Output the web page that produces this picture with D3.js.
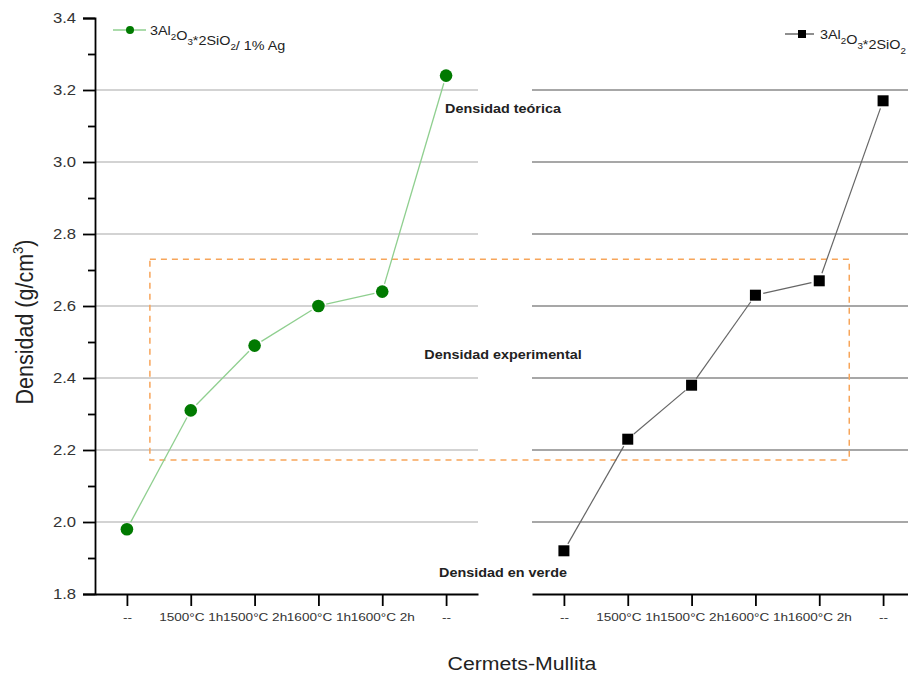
<!DOCTYPE html>
<html lang="es">
<head>
<meta charset="UTF-8">
<title>Densidad Cermets-Mullita</title>
<script src="https://cdn.jsdelivr.net/npm/d3@7/dist/d3.min.js"></script>
<style>
    body { margin: 0; background: #fff; }
    svg { display: block; font-family: Arial, "Liberation Sans", sans-serif; }
    .axis path, .axis line { stroke: #000; stroke-width: 1.8; }
    .axis text { fill: #333; }
    .note { font-weight: bold; font-size: 12.5px; fill: #222; text-anchor: middle; }
</style>
</head>
<body>
<div class="chart"></div>
<script>
// categories (x positions 0..5)
var categories = ['--', '1500°C 1h', '1500°C 2h', '1600°C 1h', '1600°C 2h', '--'];
// series
var agValues = [1.98, 2.31, 2.49, 2.60, 2.64, 3.24];     // 3Al2O3*2SiO2 / 1% Ag
var pureValues = [1.92, 2.23, 2.38, 2.63, 2.67, 3.17];   // 3Al2O3*2SiO2
// y ticks
var yTicks = [1.8, 2.0, 2.2, 2.4, 2.6, 2.8, 3.0, 3.2, 3.4];
var yMinor = [1.9, 2.1, 2.3, 2.5, 2.7, 2.9, 3.1, 3.3];
var gridValues = [2.0, 2.2, 2.4, 2.6, 2.8, 3.0, 3.2];
// annotations: text and density level
var notes = [
    { text: 'Densidad teórica', y: 3.147 },
    { text: 'Densidad experimental', y: 2.464 },
    { text: 'Densidad en verde', y: 1.858 }
];
// highlighted box (left-panel index, right-panel index, densities)
var box = { x0: 0.36, x1: 4.47, y0: 2.73, y1: 2.172 };

var width = 908, height = 677;
var SX = 1.15; // the original text looks a bit wide

var svg = d3.select('.chart').append('svg')
    .attr('width', width)
    .attr('height', height);

var y = d3.scaleLinear().domain([1.8, 3.4]).range([594, 18]);
var xLeft = d3.scaleLinear().domain([-0.5, 5.5]).range([95, 478]);
var xRight = d3.scaleLinear().domain([-0.5, 5.5]).range([532, 915]);
var idx = d3.range(categories.length);

// grid lines
svg.selectAll('line.gl').data(gridValues).enter().append('line')
    .attr('class', 'gl')
    .attr('x1', xLeft(-0.5)).attr('x2', xLeft(5.5))
    .attr('y1', function(d) { return y(d); }).attr('y2', function(d) { return y(d); })
    .attr('stroke', '#c4c4c4').attr('stroke-width', 1.6);
svg.selectAll('line.gr').data(gridValues).enter().append('line')
    .attr('class', 'gr')
    .attr('x1', xRight(-0.5)).attr('x2', xRight(5.5))
    .attr('y1', function(d) { return y(d); }).attr('y2', function(d) { return y(d); })
    .attr('stroke', '#8a8a8a').attr('stroke-width', 1.6);

// dashed box
svg.append('rect')
    .attr('x', xLeft(box.x0))
    .attr('y', y(box.y0))
    .attr('width', xRight(box.x1) - xLeft(box.x0))
    .attr('height', y(box.y1) - y(box.y0))
    .attr('fill', 'none')
    .attr('stroke', '#f7a55a')
    .attr('stroke-width', 1.5)
    .attr('stroke-dasharray', '6,5');

// y axis
svg.append('g').attr('class', 'axis')
    .attr('transform', 'translate(95,0)')
    .call(d3.axisLeft(y).tickValues(yTicks).tickSize(12).tickPadding(4.5).tickFormat(d3.format('.1f')))
    .selectAll('text')
    .style('font-size', '14.5px')
    .attr('transform', 'scale(' + SX + ',1)');
svg.append('g').attr('class', 'axis')
    .attr('transform', 'translate(95,0)')
    .call(d3.axisLeft(y).tickValues(yMinor).tickSize(7).tickFormat(''))
    .select('.domain').remove();

// x axes
function xAxis(scale) {
    return d3.axisBottom(scale).tickValues(idx).tickSize(12).tickPadding(7)
        .tickSizeOuter(0)
        .tickFormat(function(i) { return categories[i]; });
}
[xLeft, xRight].forEach(function(sc) {
    svg.append('g').attr('class', 'axis')
        .attr('transform', 'translate(0,594)')
        .call(xAxis(sc))
        .selectAll('text')
        .style('font-size', '11.8px')
        .attr('transform', 'scale(' + SX + ',1)');
});

// line segments with a small gap around markers
function segments(values, scale, gap) {
    var out = [];
    for (var i = 0; i < values.length - 1; i++) {
        var ax = scale(i), ay = y(values[i]), bx = scale(i + 1), by = y(values[i + 1]);
        var dx = bx - ax, dy = by - ay, len = Math.sqrt(dx * dx + dy * dy);
        out.push({
            x1: ax + dx / len * gap, y1: ay + dy / len * gap,
            x2: bx - dx / len * gap, y2: by - dy / len * gap
        });
    }
    return out;
}

svg.selectAll('line.sg').data(segments(agValues, xLeft, 8)).enter().append('line')
    .attr('class', 'sg')
    .attr('x1', function(d) { return d.x1; }).attr('y1', function(d) { return d.y1; })
    .attr('x2', function(d) { return d.x2; }).attr('y2', function(d) { return d.y2; })
    .attr('stroke', '#8fcf8f').attr('stroke-width', 1.3);
svg.selectAll('circle.pg').data(agValues).enter().append('circle')
    .attr('class', 'pg')
    .attr('cx', function(d, i) { return xLeft(i); })
    .attr('cy', function(d) { return y(d); })
    .attr('r', 6.3)
    .attr('fill', '#007a00');

svg.selectAll('line.sb').data(segments(pureValues, xRight, 8)).enter().append('line')
    .attr('class', 'sb')
    .attr('x1', function(d) { return d.x1; }).attr('y1', function(d) { return d.y1; })
    .attr('x2', function(d) { return d.x2; }).attr('y2', function(d) { return d.y2; })
    .attr('stroke', '#666').attr('stroke-width', 1.2);
svg.selectAll('rect.pb').data(pureValues).enter().append('rect')
    .attr('class', 'pb')
    .attr('x', function(d, i) { return xRight(i) - 5.5; })
    .attr('y', function(d) { return y(d) - 5.5; })
    .attr('width', 11).attr('height', 11)
    .attr('fill', '#000');

// annotations
svg.selectAll('text.note').data(notes).enter().append('text')
    .attr('class', 'note')
    .attr('transform', function(d) { return 'translate(503,' + y(d.y) + ') scale(' + SX + ',1)'; })
    .attr('dy', '0.35em')
    .text(function(d) { return d.text; });

// legend helper: formula with subscripts
function formula(t, tail) {
    var parts = [['3Al', 0], ['2', 1], ['O', 0], ['3', 1], ['*2SiO', 0], ['2', 1]];
    parts.forEach(function(p) {
        t.append('tspan')
            .attr('dy', p[1] ? 5 : 0)
            .style('font-size', p[1] ? '8.5px' : '12.5px')
            .text(p[0]);
        if (p[1]) t.append('tspan').attr('dy', -5).text('');
    });
    if (tail) t.append('tspan').style('font-size', '12.5px').text(tail);
}

var lg1 = svg.append('g');
lg1.append('line').attr('x1', 113).attr('x2', 146).attr('y1', 30).attr('y2', 30)
    .attr('stroke', '#8fcf8f').attr('stroke-width', 1.3);
lg1.append('circle').attr('cx', 130).attr('cy', 30).attr('r', 4).attr('fill', '#007a00');
var t1 = lg1.append('text').attr('transform', 'translate(150,35) scale(' + SX + ',1)')
    .style('font-size', '12.5px').attr('fill', '#222');
formula(t1, '/ 1% Ag');

var lg2 = svg.append('g');
lg2.append('line').attr('x1', 785).attr('x2', 814).attr('y1', 34).attr('y2', 34)
    .attr('stroke', '#444').attr('stroke-width', 1.2);
lg2.append('rect').attr('x', 798).attr('y', 30).attr('width', 8).attr('height', 8).attr('fill', '#000');
var t2 = lg2.append('text').attr('transform', 'translate(820,39) scale(' + SX + ',1)')
    .style('font-size', '12.5px').attr('fill', '#222');
formula(t2, '');

// axis titles
svg.append('text')
    .attr('transform', 'translate(522,670) scale(' + SX + ',1)')
    .attr('text-anchor', 'middle')
    .style('font-size', '18.5px')
    .attr('fill', '#222')
    .text('Cermets-Mullita');

var yt = svg.append('text')
    .attr('transform', 'translate(33,322) scale(' + SX + ',1) rotate(-90)')
    .attr('text-anchor', 'middle')
    .style('font-size', '21.5px')
    .attr('fill', '#222');
yt.append('tspan').text('Densidad (g/cm');
yt.append('tspan').attr('dy', -9).style('font-size', '13px').text('3');
yt.append('tspan').attr('dy', 9).text(')');
</script>
</body>
</html>
